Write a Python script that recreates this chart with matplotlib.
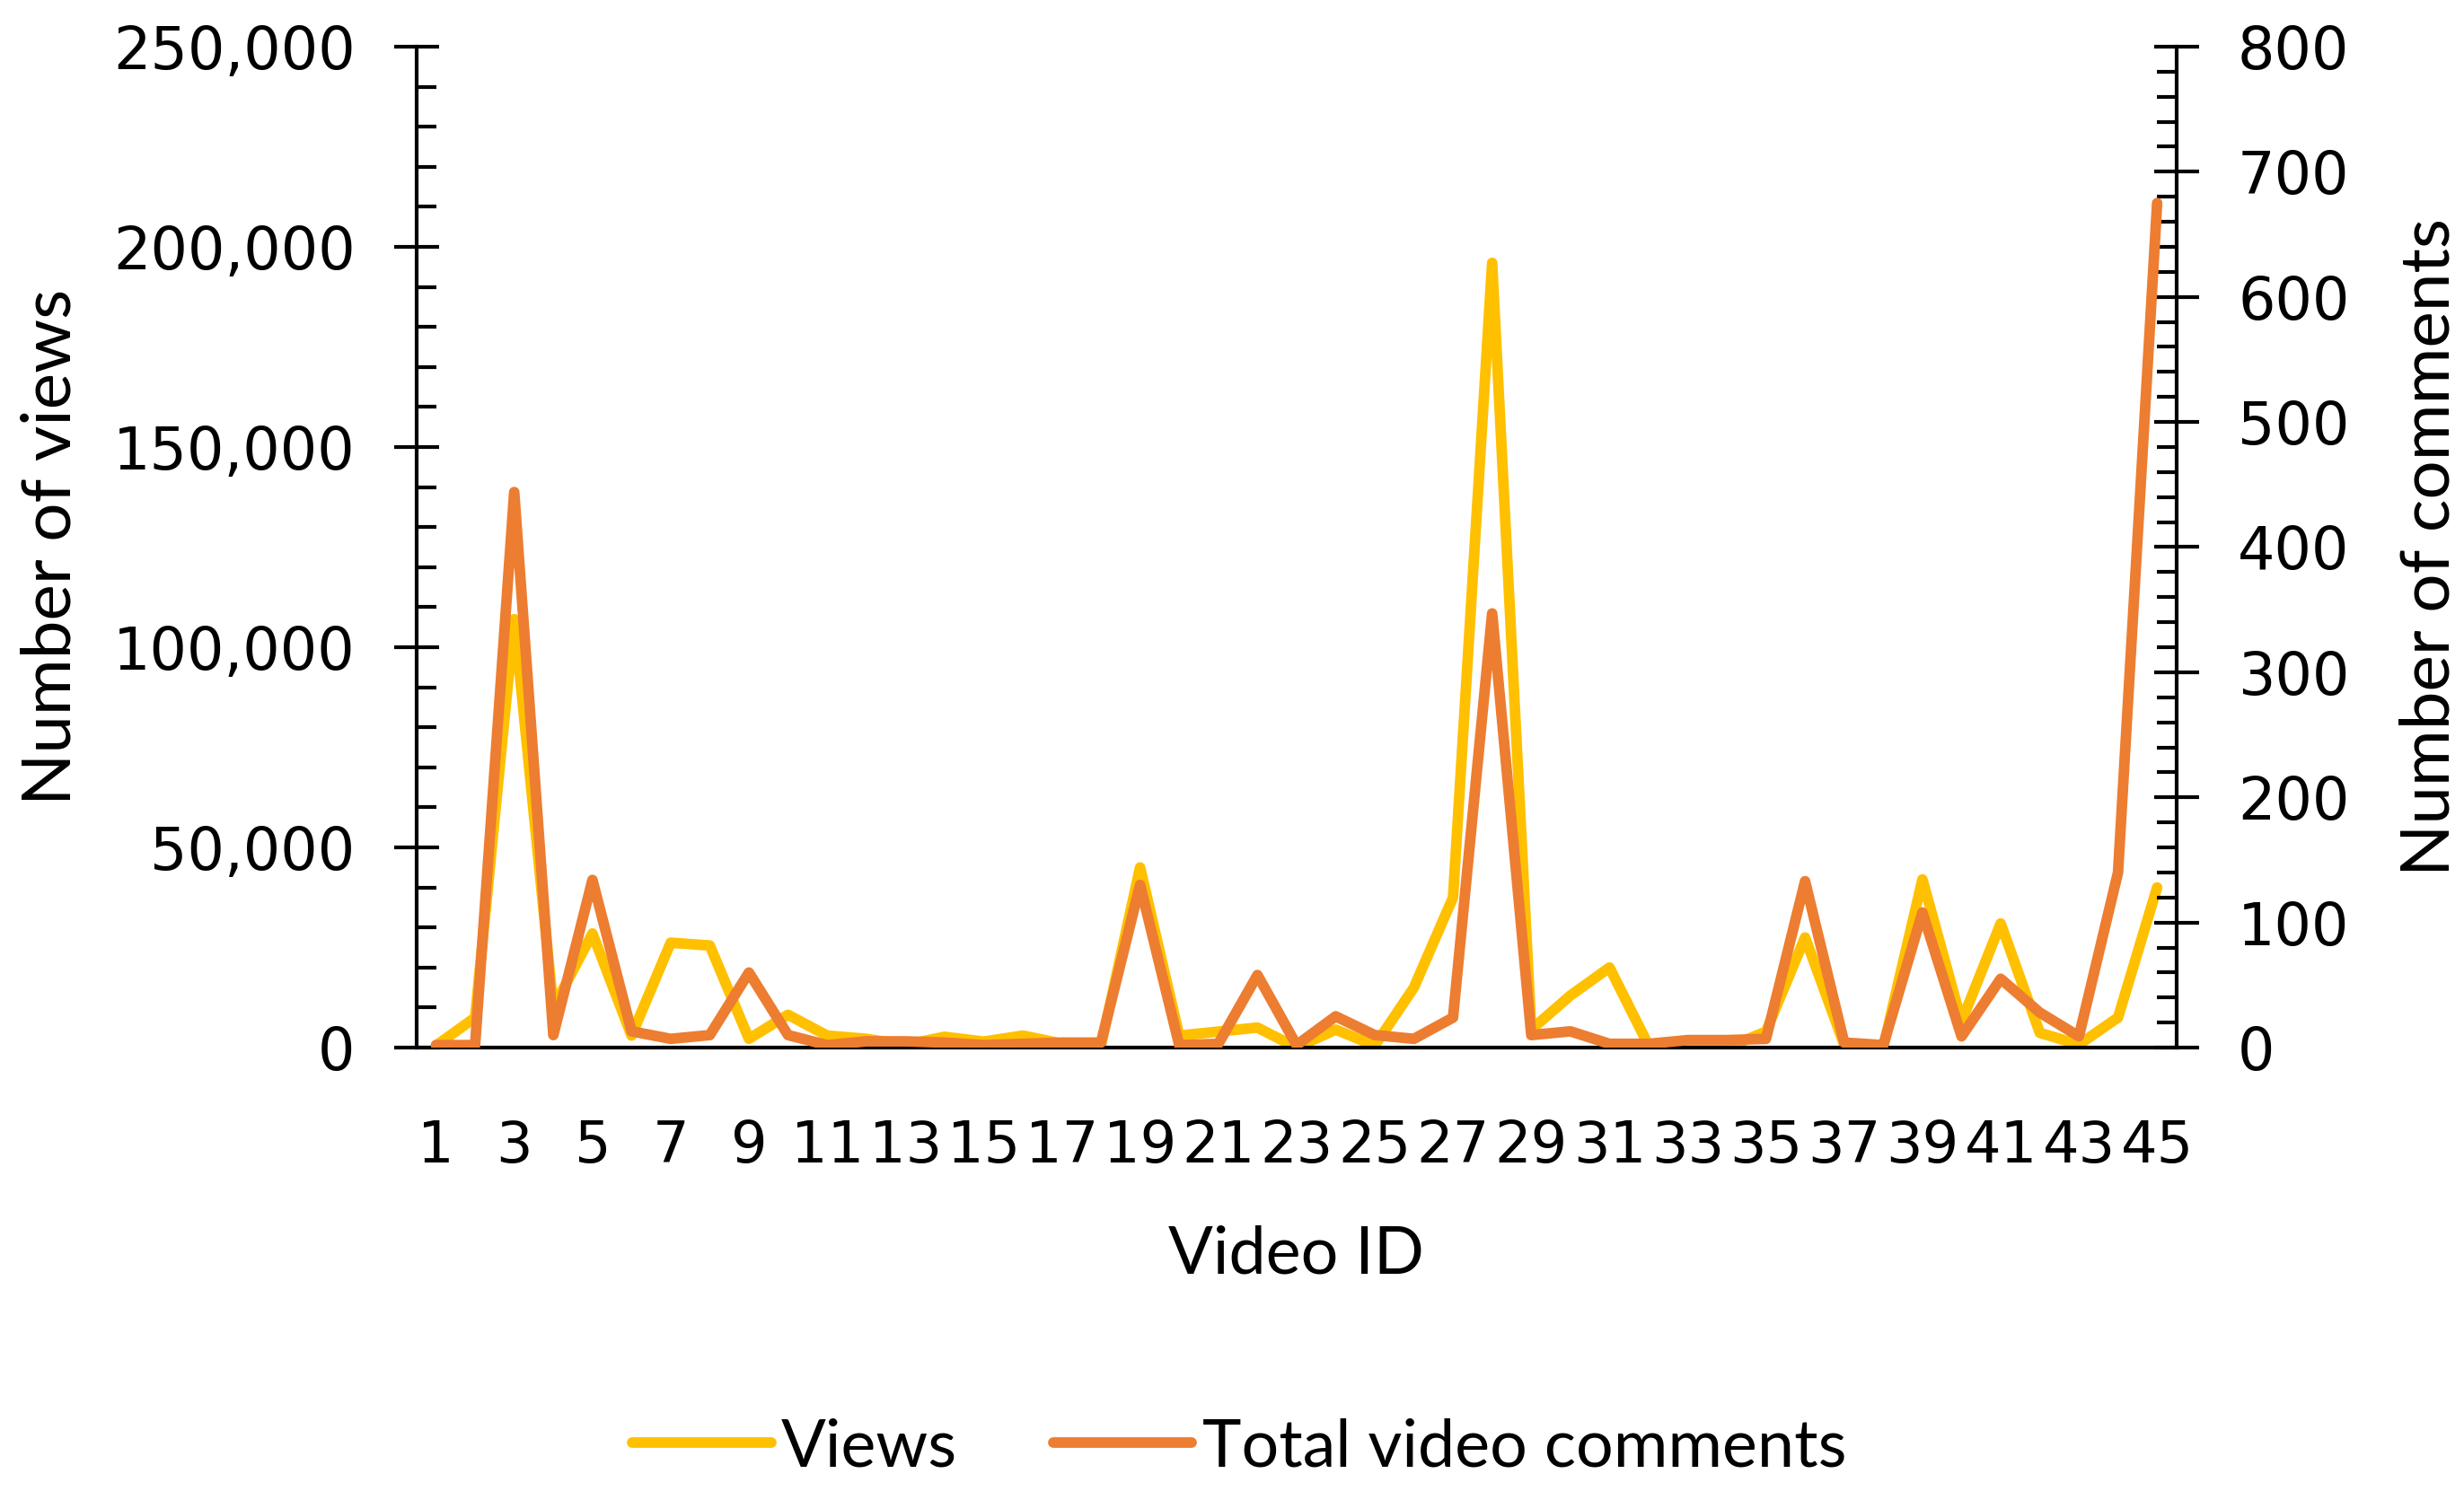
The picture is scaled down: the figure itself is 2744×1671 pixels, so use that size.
import matplotlib
matplotlib.use("Agg")
import matplotlib.pyplot as plt
import matplotlib.ticker as mticker
import numpy as np

# values
video_ids = list(range(1, 46))
views = [500, 7500, 107000, 10000, 28500, 3000, 26200, 25500, 2200, 8200,
         3000, 2200, 700, 2700, 1500, 3000, 1000, 500, 45000, 3000,
         4000, 5000, 0, 4500, 500, 15000, 37500, 196000, 4500, 13000,
         20000, 500, 1000, 0, 4000, 27500, 750, 200, 42000, 6500,
         31000, 3700, 750, 7500, 40000]
comments = [2, 2, 444, 10, 134, 13, 7, 10, 60, 10,
            2, 5, 5, 4, 2, 3, 4, 4, 130, 2,
            3, 58, 2, 25, 10, 7, 24, 347, 10, 13,
            3, 3, 6, 6, 7, 133, 4, 2, 108, 9,
            55, 28, 9, 140, 675]
x_labels = [str(i) if i % 2 == 1 else "" for i in video_ids]

YELLOW = "#FFC000"
ORANGE = "#ED7D31"
TICK_FONT = "DejaVu Sans"
TEXT_FONT = ["Lato", "DejaVu Sans"]

fig = plt.figure(figsize=(27.44, 16.71), dpi=100)
ax = fig.add_axes([0.169, 0.3016, 0.7144, 0.6673])
ax2 = ax.twinx()

lw = 8.5
l1, = ax.plot(video_ids, views, color=YELLOW, lw=lw,
              solid_joinstyle="round", solid_capstyle="round")
l2, = ax2.plot(video_ids, comments, color=ORANGE, lw=lw,
               solid_joinstyle="round", solid_capstyle="round")

ax.set_xlim(0.5, 45.5)
ax.set_ylim(0, 250000)
ax2.set_ylim(0, 800)

ax.set_xticks(video_ids)
ax.set_xticklabels(x_labels)
ax.yaxis.set_major_locator(mticker.MultipleLocator(50000))
ax.yaxis.set_minor_locator(mticker.MultipleLocator(10000))
ax.yaxis.set_major_formatter(mticker.StrMethodFormatter("{x:,.0f}"))
ax2.yaxis.set_major_locator(mticker.MultipleLocator(100))
ax2.yaxis.set_minor_locator(mticker.MultipleLocator(20))

for a in (ax, ax2):
    a.spines["top"].set_visible(False)
    for s in a.spines.values():
        s.set_linewidth(3)
ax.spines["right"].set_visible(False)
ax2.spines["left"].set_visible(False)
ax2.spines["bottom"].set_visible(False)

ax.tick_params(axis="x", length=0, pad=57, labelsize=46)
ax.tick_params(axis="y", which="major", direction="inout", length=36,
               width=3, pad=31, labelsize=47)
ax.tick_params(axis="y", which="minor", direction="in", length=16, width=3)
ax2.tick_params(axis="y", which="major", direction="inout", length=36,
                width=3, pad=31, labelsize=47)
ax2.tick_params(axis="y", which="minor", direction="in", length=16, width=3)
for lab in ax.get_xticklabels() + ax.get_yticklabels() + ax2.get_yticklabels():
    lab.set_fontfamily(TICK_FONT)

ax.set_ylabel("Number of views", fontsize=55, family=TEXT_FONT)
ax.yaxis.set_label_coords(-0.19, 0.5)
ax2.set_ylabel("Number of comments", fontsize=55, family=TEXT_FONT)
ax2.yaxis.set_label_coords(1.126, 0.5)
ax.set_xlabel("Video ID", fontsize=53, family=TEXT_FONT)
ax.xaxis.set_label_coords(0.5, -0.177)

fig.legend([l1, l2], ["Views", "Total video comments"], loc="center",
           bbox_to_anchor=(0.503, 0.035), ncol=2, frameon=False,
           prop={"family": TEXT_FONT, "size": 53}, handlelength=2.1,
           handletextpad=0.15, columnspacing=1.45)

fig.savefig("out.png", dpi=100)
